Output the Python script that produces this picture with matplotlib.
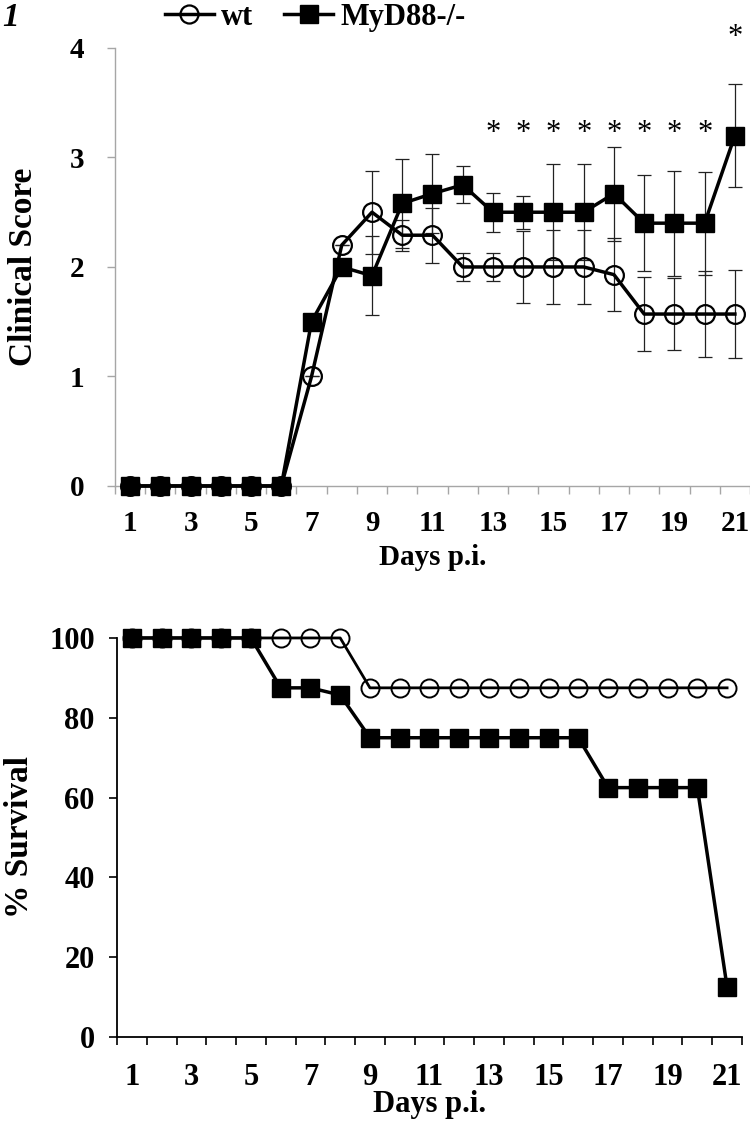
import matplotlib
matplotlib.use("Agg")
import matplotlib.pyplot as plt
from matplotlib.ticker import FixedLocator
from matplotlib.lines import Line2D

# ---------------- data ----------------
days = list(range(1, 22))
tick_days = list(range(1, 22, 2))

wt_score = [0, 0, 0, 0, 0, 0, 1.0, 2.2, 2.5, 2.29, 2.29, 2.0, 2.0, 2.0, 2.0, 2.0,
            1.93, 1.57, 1.57, 1.57, 1.57]
wt_err = [0, 0, 0, 0, 0, 0, 0, 0, 0.38, 0.14, 0.25, 0.13, 0.13, 0.33, 0.34, 0.34,
          0.33, 0.34, 0.33, 0.39, 0.40]
myd_score = [0, 0, 0, 0, 0, 0, 1.5, 2.0, 1.92, 2.58, 2.67, 2.75, 2.5, 2.5, 2.5, 2.5,
             2.67, 2.4, 2.4, 2.4, 3.2]
myd_err = [0, 0, 0, 0, 0, 0, 0, 0, 0.36, 0.41, 0.36, 0.17, 0.18, 0.15, 0.44, 0.44,
           0.43, 0.44, 0.48, 0.47, 0.47]

sig_days = [13, 14, 15, 16, 17, 18, 19, 20, 21]
sig_y = [3.22, 3.22, 3.22, 3.22, 3.22, 3.22, 3.22, 3.22, 4.1]

wt_surv = [100, 100, 100, 100, 100, 100, 100, 100, 87.5, 87.5, 87.5, 87.5, 87.5,
           87.5, 87.5, 87.5, 87.5, 87.5, 87.5, 87.5, 87.5]
myd_surv = [100, 100, 100, 100, 100, 87.5, 87.5, 85.7, 75, 75, 75, 75, 75, 75, 75,
            75, 62.5, 62.5, 62.5, 62.5, 12.5]

labels = ["wt", "MyD88-/-"]

# ---------------- style ----------------
SERIF = ["Liberation Serif", "DejaVu Serif"]
plt.rcParams["font.family"] = SERIF
plt.rcParams["font.weight"] = "bold"

fig = plt.figure(figsize=(7.5, 11.21), dpi=100)
GRAY = "#a6a6a6"

ax1 = fig.add_axes([0.1533, 0.5665, 1.0 - 0.1533, 0.9572 - 0.5665])
ax2 = fig.add_axes([0.156, 0.0749, 0.9893 - 0.156, 0.4309 - 0.0749])

# ---- top panel ----
ax1.errorbar(days, wt_score, yerr=wt_err, fmt="none", ecolor="#222222",
             elinewidth=0.9, capsize=5, capthick=0.9, zorder=2, clip_on=False)
ax1.errorbar(days, myd_score, yerr=myd_err, fmt="none", ecolor="#222222",
             elinewidth=0.9, capsize=5, capthick=0.9, zorder=2, clip_on=False)
ax1.plot(days, wt_score, color="black", lw=2.5, marker="o", ms=13.5,
         mfc="none", mec="black", mew=1.6, zorder=3, clip_on=False)
ax1.plot(days, myd_score, color="black", lw=2.5, marker="s", ms=13,
         mfc="black", mec="black", zorder=4, clip_on=False)
for d, y in zip(sig_days, sig_y):
    ax1.text(d, y, "*", ha="center", va="center", fontsize=22,
             fontweight="normal", clip_on=False)

ax1.set_xlim(0.5, 21.5)
ax1.set_ylim(0, 4)
ax1.set_yticks([0, 1, 2, 3, 4])
for s in ["top", "right"]:
    ax1.spines[s].set_visible(False)
for s in ["left", "bottom"]:
    ax1.spines[s].set_color(GRAY)
    ax1.spines[s].set_linewidth(1.0)
ax1.xaxis.set_major_locator(FixedLocator(tick_days))
ax1.xaxis.set_minor_locator(FixedLocator([d + 0.5 for d in range(0, 22)]))
ax1.tick_params(axis="x", which="major", length=0, pad=17, labelsize=21)
ax1.tick_params(axis="x", which="minor", length=6, color=GRAY, width=1.0)
ax1.tick_params(axis="y", length=6, color=GRAY, width=1.0, pad=16, labelsize=21)
ax1.set_xlabel("Days p.i.", fontsize=21, fontweight="bold", labelpad=5)
ax1.set_ylabel("Clinical Score", fontsize=24, fontweight="bold", labelpad=22)

# ---- bottom panel ----
ax2.plot(days, wt_surv, color="black", lw=2.0, marker="o", ms=13,
         mfc="none", mec="black", mew=1.4, zorder=3, clip_on=False)
ax2.plot(days, myd_surv, color="black", lw=2.5, marker="s", ms=13,
         mfc="black", mec="black", zorder=4, clip_on=False)
ax2.set_xlim(0.5, 21.5)
ax2.set_ylim(0, 100)
ax2.set_yticks([0, 20, 40, 60, 80, 100])
for s in ["top", "right"]:
    ax2.spines[s].set_visible(False)
for s in ["left", "bottom"]:
    ax2.spines[s].set_color("black")
    ax2.spines[s].set_linewidth(1.3)
ax2.xaxis.set_major_locator(FixedLocator(tick_days))
ax2.xaxis.set_minor_locator(FixedLocator([d + 0.5 for d in range(0, 22)]))
ax2.tick_params(axis="x", which="major", length=0, pad=19, labelsize=22)
ax2.tick_params(axis="x", which="minor", length=6, color="black", width=1.2)
ax2.tick_params(axis="y", length=6, color="black", width=1.2, pad=10, labelsize=22)
ax2.set_xlabel("Days p.i.", fontsize=22, fontweight="bold", labelpad=-2)
ax2.set_ylabel("% Survival", fontsize=24, fontweight="bold", labelpad=10)

for ax in (ax1, ax2):
    for lab in ax.get_xticklabels() + ax.get_yticklabels():
        lab.set_fontweight("bold")

# ---- legend ----
handles = [
    Line2D([], [], color="black", lw=2.5, marker="o", ms=13, mfc="none", mew=1.6),
    Line2D([], [], color="black", lw=2.5, marker="s", ms=12.5, mfc="black"),
]
fig.legend(handles, labels, loc="upper left", bbox_to_anchor=(0.183, 1.022),
           ncol=2, frameon=False, handlelength=1.6, handletextpad=0.25,
           columnspacing=1.0, prop={"family": SERIF, "weight": "bold", "size": 22})

fig.text(0.003, 0.998, "1", ha="left", va="top", fontsize=24,
         fontweight="bold", style="italic")

fig.savefig("out.png", dpi=100)
